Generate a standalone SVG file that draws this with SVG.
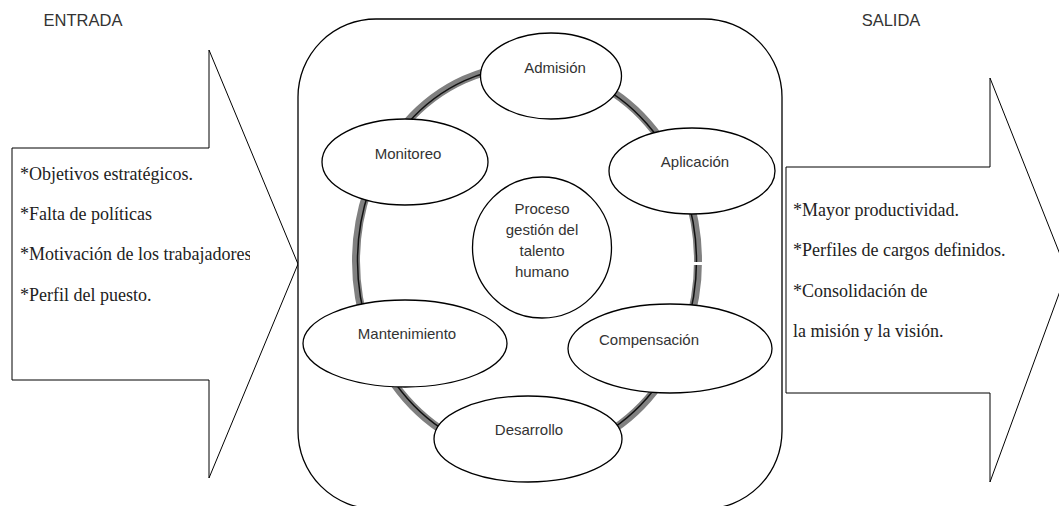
<svg xmlns="http://www.w3.org/2000/svg" width="1059" height="506" viewBox="0 0 1059 506">
  <style>
    .shape { fill: #ffffff; stroke: #000000; stroke-width: 1.3; }
    .arrow { fill: #ffffff; stroke: #000000; stroke-width: 1; }
    .lbl { font-family: "Liberation Sans", Arial, sans-serif; font-size: 15px; fill: #333333; text-anchor: middle; }
    .head { font-family: "Liberation Sans", Arial, sans-serif; font-size: 16.5px; fill: #333333; text-anchor: middle; }
    .body { font-family: "Liberation Serif", "Times New Roman", serif; font-size: 18px; fill: #222222; }
  </style>
  <defs>
    <clipPath id="clipIn"><rect x="12" y="148" width="238" height="232"/></clipPath>
  </defs>
  <rect width="1059" height="506" fill="#ffffff"/>

  <text class="head" x="83" y="26">ENTRADA</text>
  <text class="head" x="891" y="26">SALIDA</text>

  <g id="entrada">
    <polygon class="arrow" points="12,148 209,148 209,50 298,264 209,478 209,380 12,380"/>
    <g clip-path="url(#clipIn)">
      <text class="body" x="20" y="180">*Objetivos estratégicos.</text>
      <text class="body" x="20" y="220">*Falta de políticas</text>
      <text class="body" x="20" y="260">*Motivación de los trabajadores</text>
      <text class="body" x="20" y="301">*Perfil del puesto.</text>
    </g>
  </g>

  <g id="salida">
    <polygon class="arrow" points="786,167 990,167 990,78 1067,272 990,482 990,393 786,393"/>
    <text class="body" x="793" y="216">*Mayor productividad.</text>
    <text class="body" x="793" y="256">*Perfiles de cargos definidos.</text>
    <text class="body" x="793" y="297">*Consolidación de</text>
    <text class="body" x="793" y="337">la misión y la visión.</text>
  </g>

  <g id="contenedor">
    <rect class="shape" x="298" y="19" width="484" height="490" rx="78" ry="78"/>
  </g>

  <g id="connectors">
    <ellipse cx="527" cy="261" rx="171" ry="195" fill="none" stroke="#808080" stroke-width="8"/>
    <ellipse cx="527" cy="261" rx="169.5" ry="194" fill="none" stroke="#111111" stroke-width="1.5"/>
    <rect x="692" y="262" width="12" height="3" fill="#ffffff"/>
  </g>

  <g id="admision">
    <ellipse class="shape" cx="551" cy="76" rx="70.5" ry="43"/>
    <text class="lbl" x="555" y="73">Admisión</text>
  </g>
  <g id="monitoreo">
    <ellipse class="shape" cx="405" cy="162" rx="83" ry="43"/>
    <text class="lbl" x="408" y="159">Monitoreo</text>
  </g>
  <g id="aplicacion">
    <ellipse class="shape" cx="692" cy="171" rx="83" ry="43"/>
    <text class="lbl" x="695" y="167">Aplicación</text>
  </g>
  <g id="proceso">
    <ellipse class="shape" cx="542" cy="247.5" rx="69.5" ry="70.5"/>
    <text class="lbl" x="542" y="214">Proceso</text>
    <text class="lbl" x="542" y="235">gestión del</text>
    <text class="lbl" x="542" y="256">talento</text>
    <text class="lbl" x="542" y="277">humano</text>
  </g>
  <g id="mantenimiento">
    <ellipse class="shape" cx="405" cy="343.5" rx="102" ry="43.5"/>
    <text class="lbl" x="407" y="339">Mantenimiento</text>
  </g>
  <g id="compensacion">
    <ellipse class="shape" cx="670" cy="348.5" rx="102" ry="44.5"/>
    <text class="lbl" x="649" y="345">Compensación</text>
  </g>
  <g id="desarrollo">
    <ellipse class="shape" cx="528" cy="439" rx="94" ry="43"/>
    <text class="lbl" x="529" y="435">Desarrollo</text>
  </g>
</svg>
